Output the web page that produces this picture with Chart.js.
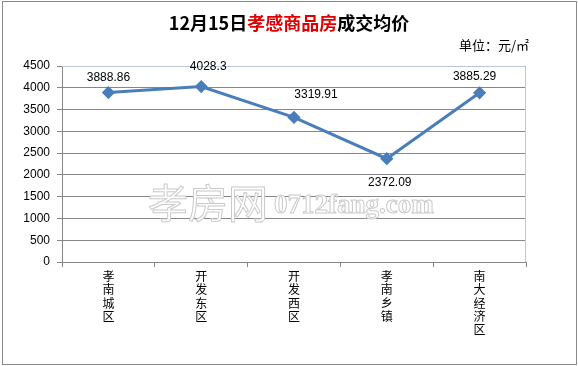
<!DOCTYPE html>
<html>
<head>
<meta charset="utf-8">
<script src="https://cdn.jsdelivr.net/npm/chart.js@4"></script>
<style>
  html, body { margin: 0; padding: 0; background: #fff; }
  #wrap { width: 578px; height: 366px; }
</style>
</head>
<body>
<div id="wrap"><canvas id="junjia" width="578" height="366"></canvas></div>
<script>
const quyu = ['孝南城区', '开发东区', '开发西区', '孝南乡镇', '南大经济区'];
const junjia = [3888.86, 4028.3, 3319.91, 2372.09, 3885.29];
const yTicks = [0, 500, 1000, 1500, 2000, 2500, 3000, 3500, 4000, 4500];

const titleParts = [
  { text: '12月15日', color: '#000000' },
  { text: '孝感商品房', color: '#e00000' },
  { text: '成交均价', color: '#000000' }
];
const unitText = '单位：元/㎡';
const watermark = ['孝房网', '0712fang.com'];

const cjk = '"Noto Sans CJK SC", "Liberation Sans", sans-serif';

// title, unit, watermark, borders and value labels
const decor = {
  id: 'decor',
  beforeDatasetsDraw(chart) {
    const ctx = chart.ctx;
    ctx.save();
    ctx.lineWidth = 1;
    ctx.strokeStyle = '#cacaca';
    ctx.fillStyle = '#ffffff';
    ctx.textBaseline = 'middle';
    ctx.font = '40px ' + cjk;
    ctx.fillText(watermark[0], 148, 203);
    ctx.strokeText(watermark[0], 148, 203);
    ctx.font = 'bold 27px "Liberation Serif", serif';
    ctx.fillText(watermark[1], 274, 206);
    ctx.strokeText(watermark[1], 274, 206);
    ctx.restore();
  },
  afterDraw(chart) {
    const ctx = chart.ctx;
    const a = chart.chartArea;
    ctx.save();

    // plot area top/right edge
    ctx.strokeStyle = '#b9c7dd';
    ctx.lineWidth = 1;
    ctx.beginPath();
    ctx.moveTo(a.left, a.top + 0.5);
    ctx.lineTo(a.right - 0.5, a.top + 0.5);
    ctx.lineTo(a.right - 0.5, a.bottom);
    ctx.stroke();

    // outer frame
    ctx.strokeStyle = '#8a8a8a';
    ctx.strokeRect(2.5, 1.5, 574, 363);

    // title in three colours
    ctx.font = 'bold 18px ' + cjk;
    ctx.textBaseline = 'middle';
    ctx.textAlign = 'left';
    let total = 0;
    titleParts.forEach(p => total += ctx.measureText(p.text).width);
    let x = 289 - total / 2;
    titleParts.forEach(p => {
      ctx.fillStyle = p.color;
      ctx.fillText(p.text, x, 23);
      x += ctx.measureText(p.text).width;
    });

    // unit
    ctx.font = '13px ' + cjk;
    ctx.fillStyle = '#000';
    ctx.textAlign = 'right';
    ctx.fillText(unitText, 529, 45);

    // value labels
    const shift = chart.options.plugins.decor.shift;
    const meta = chart.getDatasetMeta(0);
    ctx.font = '12px "Liberation Sans", sans-serif';
    ctx.textAlign = 'center';
    meta.data.forEach((pt, i) => {
      const s = shift[i];
      ctx.fillText(String(junjia[i]), pt.x + s[0], pt.y + s[1]);
    });
    ctx.restore();
  }
};

new Chart(document.getElementById('junjia'), {
  type: 'line',
  data: {
    labels: quyu.map(q => q.split('')),
    datasets: [{
      data: junjia,
      borderColor: '#4a7ebb',
      backgroundColor: '#4a7ebb',
      borderWidth: 3,
      pointStyle: 'rectRot',
      pointRadius: 4.5,
      pointHoverRadius: 4.5,
      tension: 0
    }]
  },
  options: {
    responsive: false,
    animation: false,
    layout: { padding: { left: 0, top: 66, right: 52, bottom: 0 } },
    plugins: {
      legend: { display: false },
      title: { display: false },
      tooltip: { enabled: false },
      decor: { shift: [[0, -15], [7, -20], [22, -23], [3, 24], [-5, -16]] }
    },
    scales: {
      x: {
        offset: true,
        afterFit: s => { s.height = 104; },
        grid: {
          offset: true,
          drawOnChartArea: false,
          tickLength: 5,
          color: '#868686'
        },
        border: { color: '#868686' },
        ticks: {
          maxRotation: 0,
          autoSkip: false,
          padding: 3,
          color: '#000',
          font: { family: 'Noto Sans CJK SC', size: 12, lineHeight: 1.1 }
        }
      },
      y: {
        min: 0,
        max: 4500,
        afterFit: s => { s.width = 62; },
        afterBuildTicks: s => { s.ticks = yTicks.map(v => ({ value: v })); },
        grid: { color: '#868686', tickLength: 5 },
        border: { color: '#868686' },
        ticks: {
          padding: 7,
          color: '#000',
          callback: v => String(v),
          font: { family: 'Liberation Sans', size: 12 }
        }
      }
    }
  },
  plugins: [decor]
});
</script>
</body>
</html>
